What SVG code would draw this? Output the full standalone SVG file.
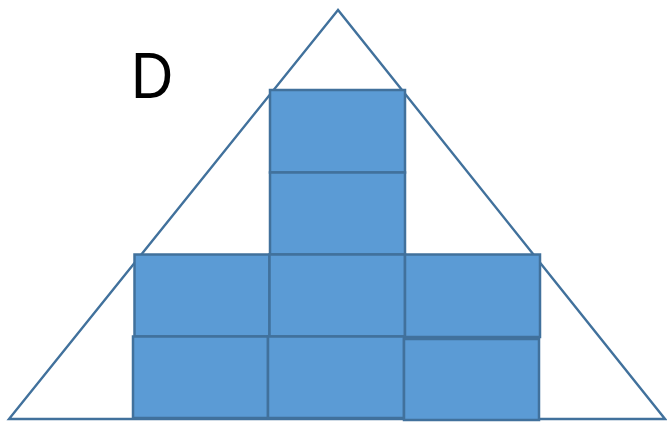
<svg xmlns="http://www.w3.org/2000/svg" width="667" height="422" viewBox="0 0 667 422">
<style>
.sq{fill:#5B9BD5;stroke:#41719C;stroke-width:2.5}
.tri{fill:none;stroke:#41719C;stroke-width:2.4}
.lbl{font-family:"Liberation Sans",Arial,sans-serif;font-size:64px;fill:#000}
</style>
<rect width="667" height="422" fill="#fff"/>
<g id="triangle"><polygon class="tri" points="338,10 9,419 665,419"/></g>
<g id="label"><text class="lbl" x="131" y="98" textLength="42" lengthAdjust="spacingAndGlyphs">D</text></g>
<g id="sq-top1"><rect class="sq" x="270" y="90" width="135" height="82.5"/></g>
<g id="sq-top2"><rect class="sq" x="270" y="172.5" width="135" height="82"/></g>
<g id="sq-mid1"><rect class="sq" x="134.5" y="254.5" width="135" height="82"/></g>
<g id="sq-mid2"><rect class="sq" x="269.5" y="254.5" width="135.5" height="82"/></g>
<g id="sq-mid3"><rect class="sq" x="405" y="254.5" width="135" height="82.5"/></g>
<g id="sq-bot1"><rect class="sq" x="133" y="336.5" width="135" height="81.5"/></g>
<g id="sq-bot2"><rect class="sq" x="268" y="336.5" width="136" height="81.5"/></g>
<g id="sq-bot3"><rect class="sq" x="404" y="339" width="135" height="81"/></g>
</svg>
